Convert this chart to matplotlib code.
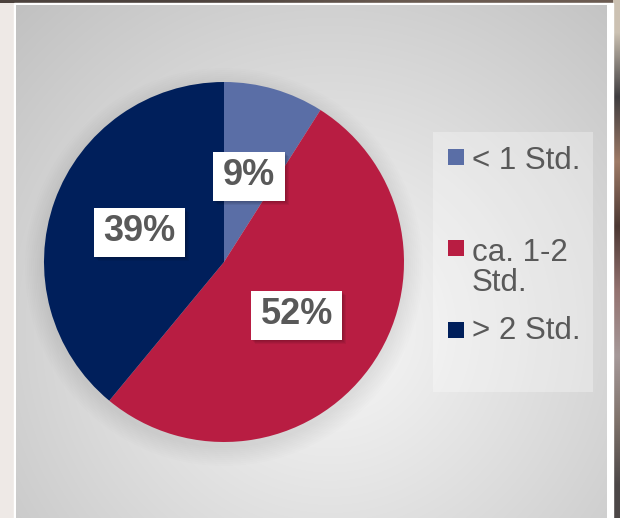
import numpy as np
import matplotlib
matplotlib.use("Agg")
import matplotlib.pyplot as plt
from matplotlib.patches import Rectangle, Circle

# ---- data ----
categories = ["< 1 Std.", "ca. 1-2\nStd.", "> 2 Std."]
values = [9, 52, 39]
colors = ["#5a6ea6", "#b81d42", "#001f5b"]

W, H = 620, 518
plt.rcParams['font.family'] = ['Liberation Sans', 'DejaVu Sans']
fig = plt.figure(figsize=(6.2, 5.18), dpi=100)
ax = fig.add_axes([0, 0, 1, 1])


def Y(py):
    return H - py


# ---- outer background (photo edges) ----
ax.add_patch(Rectangle((0, 0), W, H, color="#eee9e6", zorder=0))
ax.imshow(np.array([[[0.30, 0.26, 0.24]], [[0.42, 0.36, 0.32]]]).transpose(1, 0, 2),
          extent=(0, W, Y(3), H), aspect='auto', zorder=0.1)
right_cols = np.array([[0.80, 0.76, 0.70], [0.25, 0.24, 0.25], [0.62, 0.48, 0.40],
                       [0.30, 0.22, 0.20], [0.58, 0.45, 0.44], [0.65, 0.60, 0.60],
                       [0.50, 0.45, 0.42], [0.30, 0.28, 0.28]])
ax.imshow(right_cols[:, None, :], extent=(613, W, 0, H), aspect='auto', zorder=0.1,
          interpolation='bilinear')

# white frame
ax.add_patch(Rectangle((14, 0), 613 - 14, Y(3), color="white", zorder=0.2))

# chart area gradient
x0, x1, y0, y1 = 16, 607, 5, 518
xs = np.arange(x0, x1) + 0.5
ys = np.arange(y0, y1) + 0.5
XX, YY = np.meshgrid(xs, ys)
d = np.sqrt(((XX - 330) / 330) ** 2 + ((YY - 330) / 330) ** 2)
val = np.clip(0.975 - 0.16 * d, 0, 1)
img = np.dstack([val, val, val])
ax.imshow(img, extent=(x0, x1, Y(y1), Y(y0)), aspect='auto', zorder=0.3,
          interpolation='bilinear')

# legend background
ax.add_patch(Rectangle((433, Y(392)), 160, 260, color="white", alpha=0.3,
                       lw=0, zorder=0.4))

# ---- pie ----
cx, cy, R = 224, Y(262), 180
# soft shadow
for i in range(10):
    ax.add_patch(Circle((cx, cy - 5), R + 1 + i * 2.0, color="black",
                        alpha=0.007, lw=0, zorder=0.5))

wedges, _, autotexts = ax.pie(values, colors=colors, startangle=90,
                              counterclock=False, center=(cx, cy), radius=R,
                              autopct=lambda p: f"{p:.0f}%", pctdistance=0.5,
                              wedgeprops=dict(linewidth=0), frame=True)
for w in wedges:
    w.set_zorder(1)

ax.set_xlim(0, W)
ax.set_ylim(0, H)
ax.set_aspect('auto')
ax.axis('off')

fs = 26
for t in autotexts:
    t.set_fontsize(fs)
    t.set_fontweight('bold')
    t.set_color('#595959')
    t.set_va('center')
    t.set_zorder(5)

fig.canvas.draw()
renderer = fig.canvas.get_renderer()
for t in autotexts:
    bb = t.get_window_extent(renderer)
    tx, ty = t.get_position()
    bw = bb.width + 19
    bh = 49
    rx, ry = tx - bw / 2, ty - bh / 2 - 1
    for k in range(1, 5):
        ax.add_patch(Rectangle((rx + k, ry - k), bw, bh, color="black",
                               alpha=0.06, lw=0, zorder=3))
    ax.add_patch(Rectangle((rx, ry), bw, bh, color="white", lw=0, zorder=4))

# ---- legend ----
square_centers = [157, 247.5, 330]
baselines = [169, 261, 339]
line_step = 30
for cat, col, sc, bl in zip(categories, colors, square_centers, baselines):
    ax.add_patch(Rectangle((448, Y(sc) - 8), 16, 16, color=col, lw=0, zorder=5))
    for j, line in enumerate(cat.split("\n")):
        ax.text(472, Y(bl + j * line_step), line, fontsize=22.5, color='#595959',
                va='baseline', ha='left', zorder=5)

fig.savefig("out.png", dpi=100)
